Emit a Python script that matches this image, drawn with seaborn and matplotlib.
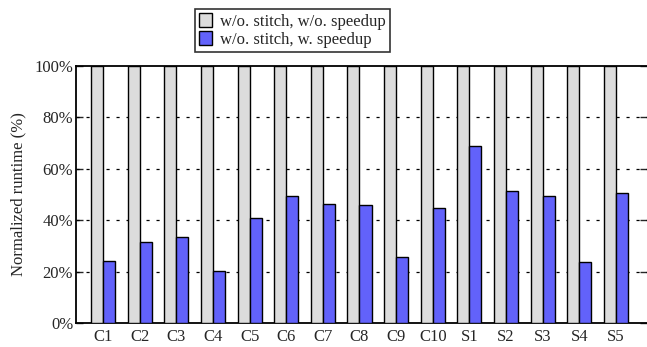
import pandas as pd
import matplotlib
matplotlib.use("Agg")
import matplotlib.pyplot as plt
import seaborn as sns

cases = ["C1", "C2", "C3", "C4", "C5", "C6", "C7", "C8", "C9", "C10",
         "S1", "S2", "S3", "S4", "S5"]
sem_speedup = [100] * 15
com_speedup = [24.2, 31.4, 33.3, 20.2, 41.0, 49.6, 46.2, 46.0, 25.6, 44.9,
               68.8, 51.3, 49.5, 23.6, 50.6]
series = ["w/o. stitch, w/o. speedup", "w/o. stitch, w. speedup"]
cores = ["#dcdcdc", "#6262fa"]

dados = pd.DataFrame({
    "caso": cases * 2,
    "valor": sem_speedup + com_speedup,
    "serie": [series[0]] * 15 + [series[1]] * 15,
})

sns.set_style("white")
plt.rcParams["font.family"] = ["Liberation Serif", "DejaVu Serif"]
plt.rcParams["font.size"] = 12

fig = plt.figure(figsize=(6.47, 3.47), dpi=100)
ax = fig.add_axes([76 / 647, 24 / 347, 1 - 76 / 647, 257 / 347])

sns.barplot(data=dados, x="caso", y="valor", hue="serie", palette=cores,
            width=0.66, edgecolor="black", linewidth=1.0, saturation=1,
            ax=ax, zorder=3)

ax.set_xlim(-0.74, 14.85)
ax.set_ylim(0, 100)
ax.set_yticks([0, 20, 40, 60, 80, 100])
ax.set_yticklabels([f"{v}%" for v in [0, 20, 40, 60, 80, 100]])
ax.set_xlabel("")
ax.set_ylabel("Normalized runtime (%)", fontsize=12, labelpad=6)

# grade pontilhada como no gnuplot
for v in [20, 40, 60, 80]:
    ax.axhline(v, color="black", linewidth=0.9, linestyle=(0, (2.5, 5.5)), zorder=1)

for lado in ["left", "bottom", "top"]:
    ax.spines[lado].set_visible(True)
    ax.spines[lado].set_color("black")
    ax.spines[lado].set_linewidth(1.3)
ax.spines["right"].set_visible(False)

ax.tick_params(axis="y", direction="in", length=5, width=1, right=True, left=True,
               labelsize=12, pad=2)
ax.tick_params(axis="x", length=0, labelsize=12, pad=4)

leg = ax.legend(loc="center", bbox_to_anchor=(0.452, 0.912), bbox_transform=fig.transFigure,
                frameon=True, fancybox=False, edgecolor="black", fontsize=12,
                handlelength=0.8, handleheight=0.9, handletextpad=0.5,
                labelspacing=0.05, borderpad=0.25, borderaxespad=0)
leg.get_frame().set_linewidth(1.2)

fig.savefig("out.png", dpi=100)
